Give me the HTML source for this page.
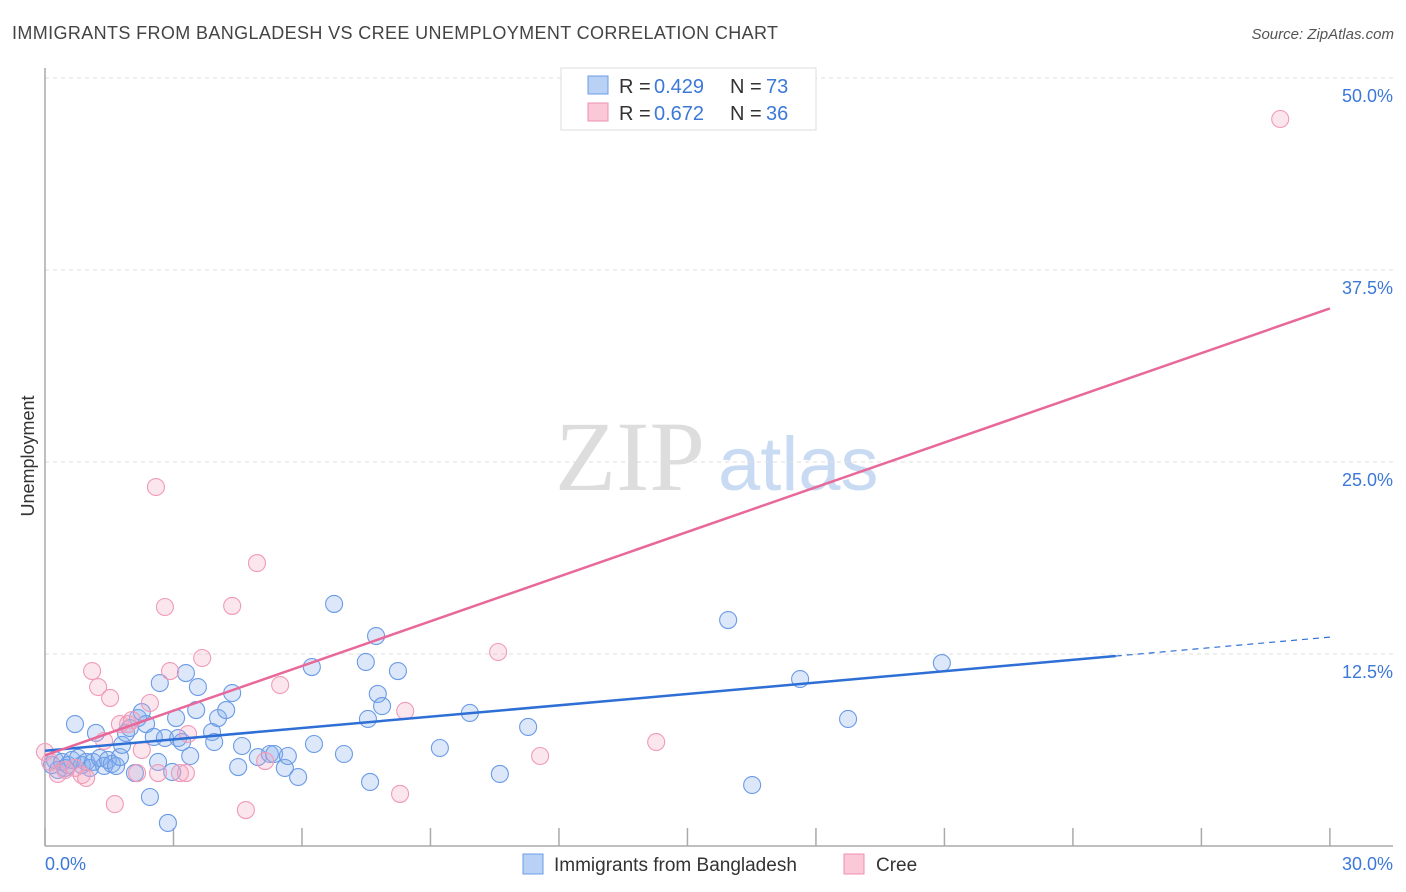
<!DOCTYPE html>
<html><head><meta charset="utf-8"><style>
body{margin:0;background:#fff;font-family:"Liberation Sans",sans-serif;}
svg{display:block}
</style></head><body>
<svg id="chart" width="1406" height="892">
<text x="12" y="39" font-size="18" fill="#444" textLength="766">IMMIGRANTS FROM BANGLADESH VS CREE UNEMPLOYMENT CORRELATION CHART</text>
<text x="1394" y="39" font-size="15" fill="#555" font-style="italic" text-anchor="end">Source: ZipAtlas.com</text>
<text transform="translate(34,456) rotate(-90)" font-size="18" fill="#333" text-anchor="middle">Unemployment</text>
<g>
<text x="555" y="490" font-size="100" font-family="Liberation Serif,serif" fill="#ddd">ZIP</text>
<text x="718" y="490" font-size="76" fill="#c9dbf3">atlas</text>
</g>
<g id="grid"></g><g id="axes"></g><g id="pts"></g><g id="lines"></g>
<g>
<rect x="561" y="68" width="255" height="62" fill="#fff" stroke="#ddd"/>
<rect x="588" y="76" width="20" height="18" fill="#b9d1f5" stroke="#6b9be6"/>
<rect x="588" y="103" width="20" height="18" fill="#fbc8d8" stroke="#ee90b0"/>
<text x="619" y="93" font-size="20" fill="#333">R =</text>
<text x="654" y="93" font-size="20" fill="#3c78d8">0.429</text>
<text x="730" y="93" font-size="20" fill="#333">N =</text>
<text x="766" y="93" font-size="20" fill="#3c78d8">73</text>
<text x="619" y="120" font-size="20" fill="#333">R =</text>
<text x="654" y="120" font-size="20" fill="#3c78d8">0.672</text>
<text x="730" y="120" font-size="20" fill="#333">N =</text>
<text x="766" y="120" font-size="20" fill="#3c78d8">36</text>
</g>
<g>
<rect x="523" y="854" width="20" height="20" fill="#b9d1f5" stroke="#6b9be6"/>
<text x="554" y="871" font-size="19" fill="#333">Immigrants from Bangladesh</text>
<rect x="844" y="854" width="20" height="20" fill="#fbc8d8" stroke="#ee90b0"/>
<text x="876" y="871" font-size="19" fill="#333">Cree</text>
</g>
</svg>
<script>
const yTicks=[12.5,25,37.5,50];
const yTickLabels=["12.5%","25.0%","37.5%","50.0%"];
const xTickVals=[0,3,6,9,12,15,18,21,24,27,30];
const blueX=[0.16,0.23,0.30,0.40,0.47,0.54,0.63,0.70,0.77,0.86,0.96,1.05,1.12,1.19,1.28,1.38,1.47,1.56,1.66,1.75,1.80,1.89,1.98,2.10,2.17,2.26,2.36,2.45,2.54,2.64,2.68,2.80,2.87,2.97,3.06,3.11,3.20,3.29,3.39,3.53,3.57,3.90,3.95,4.04,4.23,4.37,4.51,4.60,4.97,5.25,5.35,5.60,5.67,5.91,6.23,6.28,6.75,6.98,7.49,7.54,7.59,7.73,7.77,7.87,8.24,9.22,9.92,10.62,11.28,15.95,16.51,17.63,18.75,20.94];
const blueY=[5.27,5.60,4.95,5.47,5.08,5.27,5.60,7.94,5.73,5.27,5.47,5.08,5.47,7.36,5.73,5.21,5.60,5.34,5.21,5.79,6.58,7.36,7.68,4.75,8.33,8.72,7.94,3.19,7.10,5.47,10.61,7.03,1.50,4.82,8.33,7.03,6.77,11.26,5.86,8.85,10.35,7.42,6.77,8.33,8.85,9.96,5.14,6.51,5.79,5.99,5.99,5.08,5.86,4.49,11.65,6.64,15.76,5.99,11.98,8.27,4.17,13.67,9.90,9.11,11.39,6.38,8.66,4.69,7.75,14.71,3.97,10.87,8.27,11.91];
const pinkX=[0,0.12,0.30,0.47,0.70,0.86,0.96,1.10,1.24,1.38,1.52,1.63,1.75,1.94,2.03,2.15,2.26,2.45,2.59,2.64,2.80,2.92,3.15,3.29,3.34,3.67,4.37,4.69,4.95,5.14,5.49,8.29,8.41,10.58,11.56,14.27,28.84];
const pinkY=[6.12,5.47,4.69,4.95,5.08,4.62,4.43,11.39,10.35,6.84,9.64,2.73,7.94,7.94,8.20,4.75,6.25,9.31,23.37,4.75,15.56,11.39,4.75,4.75,7.29,12.24,15.63,2.34,18.42,5.53,10.48,3.39,8.79,12.63,5.86,6.77,47.33];
const blueTrend=[6.2,13.6], blueSolidEnd=25;
const pinkTrend=[5.9,35.0];
const X=v=>45+v*42.83, Y=v=>846-v*15.36;
const NS="http://www.w3.org/2000/svg";
function mk(tag,attrs,parent){const e=document.createElementNS(NS,tag);for(const k in attrs)e.setAttribute(k,attrs[k]);document.getElementById(parent).appendChild(e);return e;}
yTicks.forEach((t,i)=>{
 const g=mk('line',{x1:45,x2:1393,y1:Y(t),y2:Y(t),stroke:'#ddd','stroke-dasharray':'4,4'},'grid');
 
 
 const l=mk('text',{x:1393,y:Y(t)+24,'font-size':18,fill:'#3c78d8','text-anchor':'end'},'axes');
 l.textContent=yTickLabels[i];
 
 
});
mk('line',{x1:45,x2:45,y1:68,y2:846,stroke:'#aaa','stroke-width':1.5},'axes');
mk('line',{x1:45,x2:1393,y1:846,y2:846,stroke:'#aaa','stroke-width':1.5},'axes');
xTickVals.forEach(t=>{
 const k=mk('line',{x1:X(t),x2:X(t),y1:828,y2:846,stroke:'#aaa','stroke-width':1.5},'axes');
 
 
});
let a=mk('text',{x:45,y:870,'font-size':18,fill:'#3c78d8'},'axes');a.textContent='0.0%';


a=mk('text',{x:1393,y:870,'font-size':18,fill:'#3c78d8','text-anchor':'end'},'axes');a.textContent='30.0%';


blueX.forEach((x,i)=>{
 const c=mk('circle',{cx:X(x),cy:Y(blueY[i]),r:8.5,fill:'rgba(130,172,238,0.28)',stroke:'#6b9be6','stroke-width':1.1},'pts');
 
 
});
pinkX.forEach((x,i)=>{
 const c=mk('circle',{cx:X(x),cy:Y(pinkY[i]),r:8.5,fill:'rgba(245,165,195,0.28)',stroke:'#f09ab8','stroke-width':1.1},'pts');
 
 
});
const bAt=x=>blueTrend[0]+(blueTrend[1]-blueTrend[0])*x/30;
let ln=mk('line',{x1:X(0),y1:Y(bAt(0)),x2:X(blueSolidEnd),y2:Y(bAt(blueSolidEnd)),stroke:'#2e6fd6','stroke-width':2.5},'lines');


ln=mk('line',{x1:X(blueSolidEnd),y1:Y(bAt(blueSolidEnd)),x2:X(30),y2:Y(bAt(30)),stroke:'#2e6fd6','stroke-width':1.2,'stroke-dasharray':'6,5'},'lines');


ln=mk('line',{x1:X(0),y1:Y(pinkTrend[0]),x2:X(30),y2:Y(pinkTrend[1]),stroke:'#e8689a','stroke-width':2.5},'lines');


</script>
</body></html>
